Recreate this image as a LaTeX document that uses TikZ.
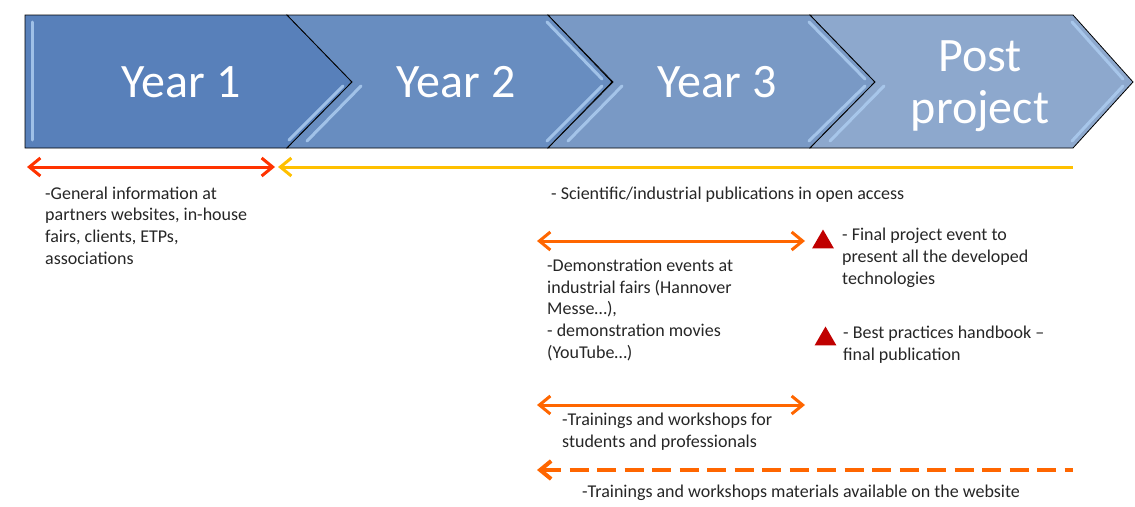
\documentclass[tikz,border=0pt]{standalone}
\usepackage{fontspec}
\setmainfont{Carlito}
\usepackage{xcolor}
\usepackage{tikz}
\usetikzlibrary{arrows.meta,shapes.geometric}

\definecolor{yearone}{RGB}{88,128,186}
\definecolor{yeartwo}{RGB}{104,141,192}
\definecolor{yearthree}{RGB}{121,153,197}
\definecolor{postproj}{RGB}{141,168,205}
\definecolor{bevelhi}{RGB}{172,204,240}
\definecolor{redline}{RGB}{255,51,0}
\definecolor{goldline}{RGB}{255,192,0}
\definecolor{orangeline}{RGB}{255,102,0}
\definecolor{darkred}{RGB}{192,0,0}

\tikzset{barb/.tip={Straight Barb[length=11pt,width=18pt]}}

\begin{document}
\begin{tikzpicture}[
    x=1pt, y=-1pt,
    % chevrons of the time line
    phase/.style={draw=black, line width=0.8pt, line join=miter},
    bevel/.style={draw=bevelhi, line width=3pt, line cap=round, opacity=.85},
    yearlabel/.style={text=white, font=\fontsize{48}{52}\selectfont,
      inner sep=0pt, align=center, anchor=base},
    % texts and spans below (anchored at the baseline of the last line)
    note/.style={text=black!85, font=\fontsize{18}{21.6}\selectfont,
      inner sep=0pt, align=left, anchor=base west},
    timespan/.style={line width=3pt, barb-barb},
    milestone/.style={regular polygon, regular polygon sides=3, fill=darkred,
      minimum size=25pt, inner sep=0pt},
  ]
  \useasboundingbox (0,0) rectangle (1135,506);

  % phases
  \filldraw[phase, fill=yearone] (25,15) -- (287,15) -- (352,82) -- (287,148)
    -- (25,148) -- cycle;
  \draw[bevel] (32,22) -- (32,140);
  \draw[bevel] (343,86) -- (289,140);
  \foreach \xa/\xb/\tip/\col in {287/548/612/yeartwo, 548/810/875/yearthree,
      810/1073/1133/postproj} {
    \filldraw[phase, fill=\col] (\xa,15) -- (\xb,15) -- (\tip,82) -- (\xb,148)
      -- (\xa,148) -- ({\xa+65},82) -- cycle;
    \draw[bevel] (\xb-1,22) -- (\tip-10,79);
    \draw[bevel] (\tip-10,86) -- (\xb-1,141);
    \draw[bevel] ({\xa+74},86) -- ({\xa+20},141);
  }

  \node[yearlabel] (yr1) at (181,97) {Year 1};
  \node[yearlabel] (yr2) at (456,97) {Year 2};
  \node[yearlabel] (yr3) at (717,97) {Year 3};
  \node[yearlabel] (post) at (980,123) {Post\\project};

  % spans
  \coordinate (redL) at (27,167);
  \coordinate (redR) at (275,167);
  \coordinate (goldL) at (278,167);
  \coordinate (goldR) at (1073,167);
  \coordinate (demoL) at (537,241);
  \coordinate (demoR) at (805,241);
  \coordinate (trainL) at (537,405);
  \coordinate (trainR) at (805,405);
  \coordinate (webL) at (537,470);
  \coordinate (webR) at (1073,470);

  \draw[timespan, redline] (redL) -- (redR);
  \draw[line width=3pt, goldline, barb-] (goldL) -- (goldR);
  \draw[timespan, orangeline] (demoL) -- (demoR);
  \draw[timespan, orangeline] (trainL) -- (trainR);
  \draw[line width=4pt, orangeline, barb-, dash pattern=on 19pt off 8.5pt]
    (webL) -- (webR);

  \node[milestone] (ms1) at (823,242) {};
  \node[milestone] (ms2) at (825.5,339) {};

  \node[note] (general) at (45,264) {-General information at\\partners websites, in-house\\fairs, clients, ETPs,\\associations};
  \node[note] (publ) at (551,199) {- Scientific/industrial publications in open access};
  \node[note] (demo) at (547,358) {-Demonstration events at\\industrial fairs (Hannover\\Messe…),\\- demonstration movies\\(YouTube…)};
  \node[note] (final) at (842,284) {- Final project event to\\present all the developed\\technologies};
  \node[note] (handbook) at (843,360) {- Best practices handbook –\\final publication};
  \node[note] (train) at (562,447) {-Trainings and workshops for\\students and professionals};
  \node[note] (material) at (582,497) {-Trainings and workshops materials available on the website};
\end{tikzpicture}
\end{document}
